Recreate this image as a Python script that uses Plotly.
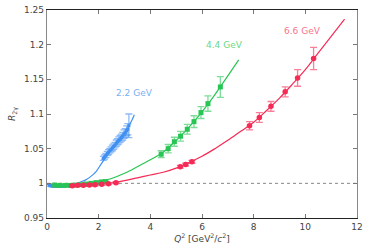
import plotly.graph_objects as go

# ---- data ----
# theory curves
blue_curve_q2 = [0, 0.3, 0.6, 0.9, 1.1, 1.3, 1.5, 1.7, 1.9, 2.1, 2.3, 2.5, 2.7, 2.9, 3.1, 3.3, 3.38]
blue_curve_r = [0.998, 0.9955, 0.995, 0.997, 0.999, 1.002, 1.005, 1.010, 1.017, 1.028, 1.039, 1.049, 1.059, 1.068, 1.078, 1.092, 1.099]

green_curve_q2 = [0, 0.5, 1.0, 1.5, 2.0, 2.5, 3.0, 3.5, 4.0, 4.5, 5.0, 5.5, 6.0, 6.5, 7.0, 7.42]
green_curve_r = [0.999, 0.997, 0.997, 0.999, 1.002, 1.007, 1.0145, 1.024, 1.034, 1.045, 1.062, 1.081, 1.103, 1.128, 1.155, 1.178]

red_curve_q2 = [0, 0.5, 1.0, 1.5, 2.0, 2.5, 3.0, 3.5, 4.0, 4.5, 5.0, 5.5, 6.0, 6.5, 7.0, 7.5, 8.0, 8.5, 9.0, 9.5, 10.0, 10.5, 11.0, 11.52]
red_curve_r = [0.999, 0.998, 0.997, 0.9975, 0.999, 1.0005, 1.004, 1.008, 1.012, 1.016, 1.022, 1.030, 1.039, 1.050, 1.062, 1.075, 1.088, 1.105, 1.123, 1.143, 1.164, 1.188, 1.212, 1.237]

# data points, 2.2 GeV
blue_q2 = [0.1, 0.2, 0.3, 0.4, 0.5, 0.6, 0.7, 0.8, 0.9,
           2.18, 2.23, 2.28, 2.33, 2.38, 2.43, 2.48, 2.53, 2.58, 2.63, 2.68,
           2.73, 2.78, 2.83, 2.88, 2.93, 2.98, 3.03, 3.08, 3.13, 3.17]
blue_r = [0.997, 0.996, 0.996, 0.996, 0.996, 0.996, 0.9965, 0.997, 0.997,
          1.036, 1.038, 1.040, 1.043, 1.045, 1.047, 1.049, 1.051, 1.053, 1.055, 1.058,
          1.060, 1.062, 1.064, 1.066, 1.068, 1.071, 1.073, 1.076, 1.078, 1.083]
blue_err = [0.0015, 0.0015, 0.0015, 0.0015, 0.0015, 0.0015, 0.0015, 0.0015, 0.0015,
            0.003, 0.003, 0.003, 0.003, 0.0035, 0.0035, 0.0035, 0.004, 0.004, 0.004, 0.0045,
            0.0045, 0.005, 0.005, 0.005, 0.0055, 0.006, 0.006, 0.007, 0.008, 0.017]

# data points, 4.4 GeV
green_q2 = [0.3, 0.5, 0.7, 0.9, 1.1, 1.3, 1.5, 1.7, 1.9, 2.1, 2.26,
            4.42, 4.69, 4.93, 5.17, 5.43, 5.69, 5.96, 6.23, 6.71]
green_r = [0.9975, 0.997, 0.997, 0.997, 0.9975, 0.998, 0.999, 1.000, 1.001, 1.002, 1.0025,
           1.042, 1.050, 1.060, 1.068, 1.078, 1.089, 1.102, 1.115, 1.139]
green_err = [0.0015, 0.0015, 0.0015, 0.0015, 0.0015, 0.0015, 0.0015, 0.0015, 0.0015, 0.0015, 0.002,
             0.005, 0.006, 0.0065, 0.007, 0.007, 0.0085, 0.0085, 0.011, 0.015]

# data points, 6.6 GeV
red_q2 = [0.98, 1.19, 1.41, 1.64, 1.86, 2.12, 2.38, 2.67,
          5.16, 5.37, 5.61, 7.84, 8.22, 8.67, 9.22, 9.70, 10.32]
red_r = [0.9966, 0.9972, 0.9972, 0.9976, 0.998, 0.9986, 0.9995, 1.001,
         1.024, 1.027, 1.031, 1.083, 1.095, 1.111, 1.132, 1.152, 1.180]
red_err = [0.0015, 0.0015, 0.0015, 0.0015, 0.0015, 0.0015, 0.0015, 0.0015,
           0.002, 0.002, 0.002, 0.006, 0.007, 0.007, 0.0072, 0.012, 0.016]

labels = ["2.2 GeV", "4.4 GeV", "6.6 GeV"]
label_x = [3.37, 6.86, 9.88]
label_y = [1.130, 1.200, 1.220]

x_ticks = [0, 2, 4, 6, 8, 10, 12]
y_ticks = [0.95, 1.0, 1.05, 1.1, 1.15, 1.2, 1.25]
y_ticktext = ["0.95", "1", "1.05", "1.1", "1.15", "1.2", "1.25"]

BLUE = "#3f8ff2"
GREEN = "#27c553"
RED = "#f52a55"
BLUE_L = "rgba(63,143,242,0.6)"
GREEN_L = "rgba(39,197,83,0.6)"
RED_L = "rgba(245,42,85,0.6)"

fig = go.Figure()

# reference line at 1
fig.add_trace(go.Scatter(x=[0, 12], y=[1, 1], mode="lines",
                         line=dict(color="#666666", width=0.8, dash="dot"),
                         hoverinfo="skip", showlegend=False))

for cq, cr, col in [(blue_curve_q2, blue_curve_r, BLUE),
                    (green_curve_q2, green_curve_r, GREEN),
                    (red_curve_q2, red_curve_r, RED)]:
    fig.add_trace(go.Scatter(x=cq, y=cr, mode="lines",
                             line=dict(color=col, width=1.2, shape="spline", smoothing=1.0),
                             showlegend=False))

for q, r, e, col, lcol, sym, sz in [
        (blue_q2, blue_r, blue_err, BLUE, BLUE_L, "square", 3),
        (green_q2, green_r, green_err, GREEN, GREEN_L, "square", 5),
        (red_q2, red_r, red_err, RED, RED_L, "circle", 5.5)]:
    fig.add_trace(go.Scatter(x=q, y=r, mode="markers",
                             marker=dict(color=col, symbol=sym, size=sz, line=dict(width=0)),
                             error_y=dict(type="data", array=e, color=lcol, thickness=1.3, width=3.5),
                             showlegend=False))

for t, lx, ly, lc in zip(labels, label_x, label_y, ["#7ab0f5", "#6ad888", "#f7738f"]):
    fig.add_annotation(x=lx, y=ly, text=t, showarrow=False,
                       font=dict(family="DejaVu Sans", size=9, color=lc))

fig.update_layout(
    width=374, height=252,
    margin=dict(l=47, r=17, t=10, b=34, autoexpand=False),
    plot_bgcolor="white", paper_bgcolor="white",
    font=dict(family="DejaVu Sans", size=9, color="#444444"),
)
fig.update_xaxes(range=[0, 12], tickvals=x_ticks, ticks="inside", ticklen=4,
                 tickcolor="#777777", showline=True, linecolor="#222222", linewidth=1.3,
                 mirror="allticks", showgrid=False, zeroline=False, automargin=False,
                 title=dict(text="<i>Q</i><sup>2</sup> [GeV<sup>2</sup>/<i>c</i><sup>2</sup>]",
                            standoff=4, font=dict(size=9)))
fig.update_yaxes(range=[0.95, 1.25], tickvals=y_ticks, ticktext=y_ticktext,
                 ticks="inside", ticklen=4, tickcolor="#777777",
                 showline=True, linecolor="#888888", linewidth=1.3,
                 mirror="allticks", showgrid=False, zeroline=False, automargin=False,
                 title=dict(text="<i>R</i><sub>2γ</sub>", standoff=6, font=dict(size=9)))

# remove the page's default body margin so the figure sits at the window origin
fig.write_html("out.html",
               config={"displayModeBar": False},
               post_script="document.body.style.margin='0';document.body.style.padding='0';")
